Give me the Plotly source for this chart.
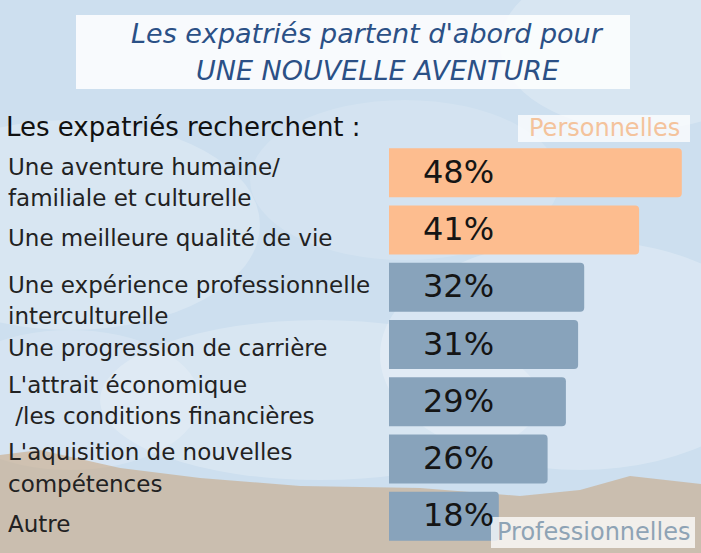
import plotly.graph_objects as go

labels = [
    "Une aventure humaine/\nfamiliale et culturelle",
    "Une meilleure qualité de vie",
    "Une expérience professionnelle\ninterculturelle",
    "Une progression de carrière",
    "L'attrait économique\n /les conditions financières",
    "L'aquisition de nouvelles\ncompétences",
    "Autre",
]
values = [48, 41, 32, 31, 29, 26, 18]
groups = ["Personnelles", "Personnelles", "Professionnelles", "Professionnelles",
          "Professionnelles", "Professionnelles", "Professionnelles"]

title_lines = ["Les expatriés partent d'abord pour", "UNE NOUVELLE AVENTURE"]
subtitle = "Les expatriés recherchent :"

W, H = 701, 553
colors = {"Personnelles": "#fdbd8f", "Professionnelles": "#88a3bb"}
FONT = "DejaVu Sans"
# vertical nudges (px) of each label line relative to its bar centre
line_shifts = [[6, -25], [-8], [2, -29], [-3], [17, -14], [7, -25], [-8]]


def px(x):
    return x / W


def py(y):
    return 1 - y / H


fig = go.Figure()

# one trace per group so the colours follow the category
for g in ["Personnelles", "Professionnelles"]:
    ys = [l for l, gg in zip(labels, groups) if gg == g]
    xs = [v for v, gg in zip(values, groups) if gg == g]
    fig.add_trace(go.Bar(
        x=xs, y=ys, orientation="h", name=g,
        marker=dict(color=colors[g], cornerradius=4, line=dict(width=0)),
        showlegend=False, hoverinfo="x+y",
    ))

# background: sky, soft clouds, hazy hills
shapes = []
clouds = [(-120, 120, 260, 330, 0.22), (380, 240, 780, 470, 0.24), (100, 320, 540, 480, 0.22),
          (500, -40, 780, 130, 0.22), (-60, 330, 200, 470, 0.18), (250, 100, 560, 260, 0.14)]
for x0, y0, x1, y1, op in clouds:
    shapes.append(dict(type="circle", xref="paper", yref="paper", x0=px(x0), x1=px(x1),
                       y0=py(y1), y1=py(y0), fillcolor=f"rgba(255,255,255,{op})",
                       line=dict(width=0), layer="below"))
hill = [(0, 455), (40, 450), (120, 468), (200, 478), (300, 486), (420, 488), (520, 496),
        (580, 490), (630, 476), (701, 484), (701, 553), (0, 553)]
path = "M " + " L ".join(f"{px(x):.4f},{py(y):.4f}" for x, y in hill) + " Z"
shapes.append(dict(type="path", xref="paper", yref="paper", path=path,
                   fillcolor="rgba(200,158,112,0.5)", line=dict(width=0), layer="below"))
# title box and tag boxes
shapes.append(dict(type="rect", xref="paper", yref="paper", x0=px(76), x1=px(630), y0=py(89), y1=py(15),
                   fillcolor="rgba(255,255,255,0.85)", line=dict(width=0), layer="below"))
shapes.append(dict(type="rect", xref="paper", yref="paper", x0=px(518), x1=px(690), y0=py(142), y1=py(115),
                   fillcolor="rgba(255,255,255,0.75)", line=dict(width=0), layer="below"))
shapes.append(dict(type="rect", xref="paper", yref="paper", x0=px(491), x1=px(695), y0=py(548), y1=py(517),
                   fillcolor="rgba(255,255,255,0.75)", line=dict(width=0), layer="above"))

annotations = []
# title
for i, t in enumerate(title_lines):
    annotations.append(dict(text=f"<i>{t}</i>", xref="paper", yref="paper", x=px([367, 378][i]),
                            y=py([33, 70][i]), xanchor="center", yanchor="middle", showarrow=False,
                            font=dict(family=FONT, size=27, color="#2b5086")))
annotations.append(dict(text=subtitle, xref="paper", yref="paper", x=px(4), y=py(127),
                        xanchor="left", yanchor="middle", showarrow=False,
                        font=dict(family=FONT, size=26, color="#111111")))
annotations.append(dict(text="Personnelles", xref="paper", yref="paper", x=px(604), y=py(128),
                        xanchor="center", yanchor="middle", showarrow=False,
                        font=dict(family=FONT, size=24, color="#f4c39c")))
annotations.append(dict(text="Professionnelles", xref="paper", yref="paper", x=px(593), y=py(532),
                        xanchor="center", yanchor="middle", showarrow=False,
                        font=dict(family=FONT, size=24, color="#8ea3b5")))

# category labels, one annotation per line
for lab, shifts in zip(labels, line_shifts):
    for line, s in zip(lab.split("\n"), shifts):
        annotations.append(dict(text=line, xref="paper", yref="y", x=px(6), y=lab, yshift=s,
                                xanchor="left", yanchor="middle", showarrow=False,
                                font=dict(family=FONT, size=23, color="#222222")))

# percentage labels inside the bars
for lab, v in zip(labels, values):
    annotations.append(dict(text=f"{v}%", xref="x", yref="y", x=5.3, y=lab, yshift=1,
                            xanchor="left", yanchor="middle", showarrow=False,
                            font=dict(family=FONT, size=32, color="#151515")))

fig.update_layout(
    width=W, height=H,
    margin=dict(l=0, r=0, t=0, b=0),
    paper_bgcolor="#cddfef", plot_bgcolor="rgba(0,0,0,0)",
    barmode="overlay", bargap=0.145,
    shapes=shapes, annotations=annotations,
    xaxis=dict(range=[0, 50], domain=[px(389), px(389 + 50 * 6.1)], visible=False, fixedrange=True),
    yaxis=dict(categoryorder="array", categoryarray=labels, range=[len(labels) - 0.5, -0.5],
               domain=[py(545), py(144)], visible=False, fixedrange=True),
)

fig.write_html("out.html", config={"displayModeBar": False},
               post_script="document.body.style.margin='0';document.body.style.overflow='hidden';")
